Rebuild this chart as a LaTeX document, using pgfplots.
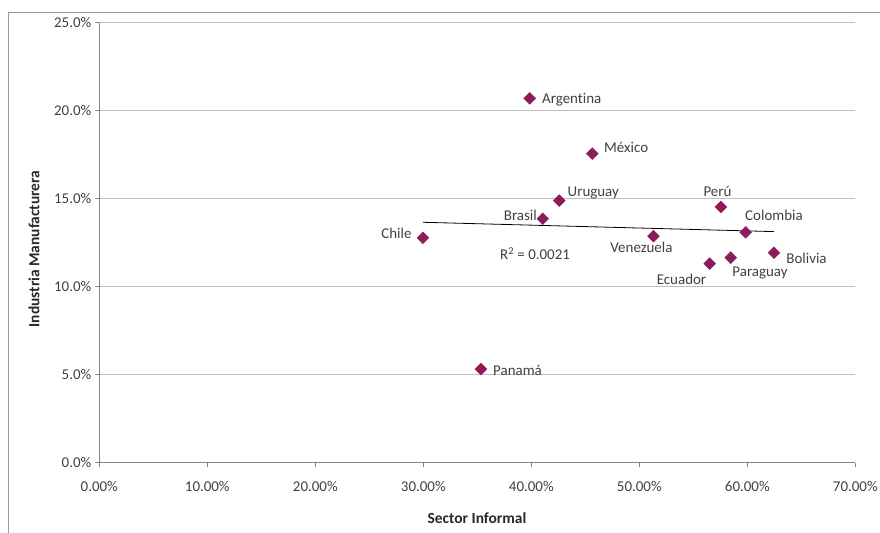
\documentclass[border=0pt]{standalone}
\usepackage{pgfplots}
\pgfplotsset{compat=1.18}
\usepackage{fontspec}
\setmainfont[Ligatures=NoCommon]{Carlito}
\definecolor{mk}{RGB}{140,28,92}
\definecolor{axisgray}{RGB}{134,134,134}
\definecolor{gridgray}{RGB}{190,190,190}
\definecolor{labgray}{RGB}{64,64,64}
\pgfplotstableread{
x y
39.85 20.70
45.65 17.56
42.59 14.89
41.06 13.86
29.97 12.78
51.31 12.87
57.56 14.53
59.85 13.09
58.46 11.65
56.52 11.31
62.47 11.93
35.34 5.32
}\datatable
\newcommand\lab[4]{\node[anchor=#3, inner sep=0pt, font=\fontsize{15}{17}\selectfont, text=labgray] at (#1,{531-#2}) {#4};}
\begin{document}
\begin{tikzpicture}[x=1bp,y=1bp]
\useasboundingbox (0,0) rectangle (880,533);
\draw[gridgray!80!black, line width=0.8bp] (8,0) -- (8,521) -- (880,521);
\begin{axis}[
  at={(99.3bp,70.3bp)}, anchor=south west,
  scale only axis, width=756bp, height=440bp,
  xmin=0, xmax=70, ymin=0, ymax=25,
  xtick={0,10,...,70}, ytick={0,5,...,25},
  axis x line=bottom, axis y line=left,
  axis line style={-, draw=axisgray, line width=0.8bp},
  ymajorgrids, grid style={draw=gridgray, line width=0.8bp},
  tick align=outside, major tick length=4.5bp,
  tick style={draw=axisgray, line width=0.8bp},
  /pgf/number format/assume math mode=true,
  xticklabel={\pgfmathprintnumber[fixed,fixed zerofill,precision=2]{\tick}\%},
  yticklabel={\pgfmathprintnumber[fixed,fixed zerofill,precision=1]{\tick}\%},
  ticklabel style={font=\fontsize{15}{17}\selectfont, text=labgray},
  xticklabel style={yshift=-11bp},
  clip=false,
]
\addplot[black, line width=0.8bp, no marks] coordinates {(29.97,13.66) (62.47,13.13)};
\addplot[only marks, mark=square*, mark size=4.2bp, mark options={rotate=45, fill=mk, draw=mk}] table[x=x,y=y] {\datatable};
\end{axis}
\lab{542}{99}{mid west}{Argentina}
\lab{604}{148}{mid west}{México}
\lab{567.5}{192}{mid west}{Uruguay}
\lab{537}{216}{mid east}{Brasil}
\lab{411.7}{234}{mid east}{Chile}
\lab{641.5}{248}{mid}{Venezuela}
\lab{717.5}{192}{mid}{Perú}
\lab{774}{216}{mid}{Colombia}
\lab{760}{271.7}{mid}{Paraguay}
\lab{681.5}{280}{mid}{Ecuador}
\lab{806.5}{259.3}{mid}{Bolivia}
\lab{493}{371}{mid west}{Panamá}
\lab{500}{255}{mid west}{R\textsuperscript{2} = 0.0021}
\node[font=\bfseries\fontsize{15.5}{17}\selectfont, text=labgray!60!black] at (477,{533-518}) {Sector Informal};
\node[font=\bfseries\fontsize{15.5}{17}\selectfont, text=labgray!60!black, rotate=90] at (34,{533-249}) {Industria Manufacturera};
\end{tikzpicture}
\end{document}
